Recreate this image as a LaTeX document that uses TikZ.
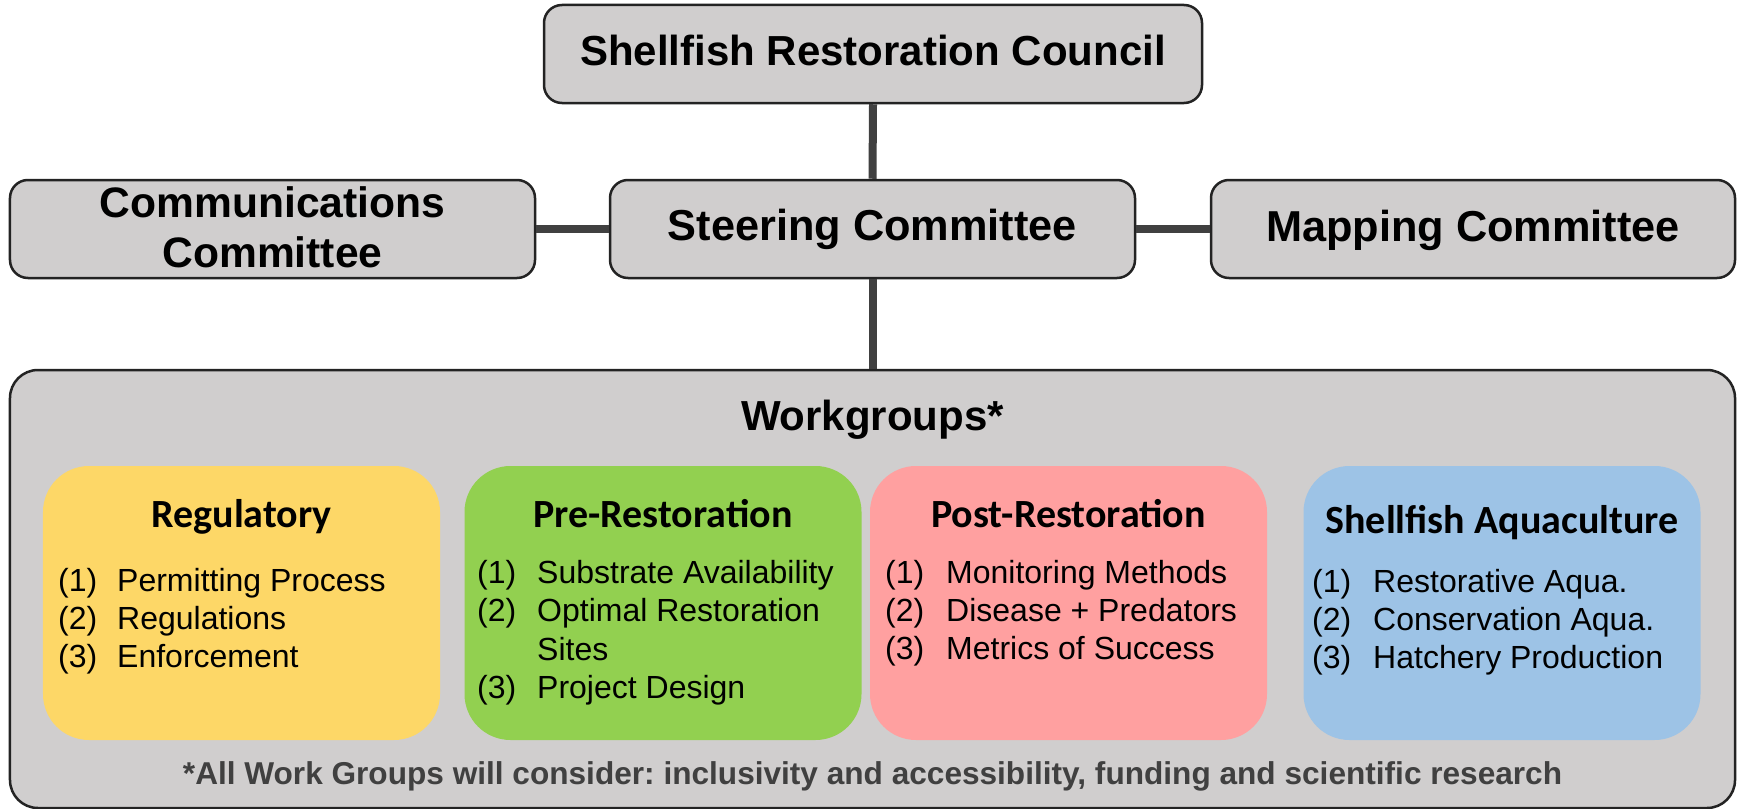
\documentclass[tikz,border=0pt]{standalone}
\usepackage{fontspec}
\setmainfont{Liberation Sans}
\newfontfamily\headfont{Carlito}
\frenchspacing

\definecolor{boxgray}{RGB}{208,206,206}
\definecolor{edgeline}{RGB}{35,35,35}
\definecolor{linkgray}{RGB}{64,64,64}
\definecolor{reggold}{RGB}{253,215,103}
\definecolor{pregreen}{RGB}{146,208,80}
\definecolor{postpink}{RGB}{255,160,160}
\definecolor{aquablue}{RGB}{157,195,230}

\tikzset{
  orgbox/.style={draw=edgeline, line width=2.5bp, fill=boxgray, rounded corners=18bp, inner sep=0pt},
  groupbox/.style={rounded corners=46bp, inner sep=0pt, minimum width=397bp, minimum height=274bp},
  linkline/.style={draw=linkgray, line width=8bp},
  toptext/.style={inner sep=0pt, anchor=base, font=\fontsize{42bp}{50bp}\selectfont\bfseries},
  widetext/.style={toptext, font=\fontsize{43.3bp}{50bp}\selectfont\bfseries},
  grouphead/.style={inner sep=0pt, anchor=base, font=\fontsize{40bp}{46bp}\selectfont\headfont\bfseries},
  itemtext/.style={inner sep=0pt, anchor=base west, font=\fontsize{32bp}{37bp}\selectfont},
  notetext/.style={inner sep=0pt, anchor=base, text=linkgray, font=\fontsize{31.6bp}{36bp}\selectfont\bfseries}
}

\begin{document}
\begin{tikzpicture}[x=1bp,y=-1bp]
\useasboundingbox[fill=white] (0,0) rectangle (1737,809);

% committee boxes
\node[orgbox, minimum width=658bp, minimum height=98bp] (council) at (873,54) {};
\node[orgbox, minimum width=525bp, minimum height=98bp] (comm) at (272.5,229) {};
\node[orgbox, minimum width=525bp, minimum height=98bp] (steering) at (872.5,229) {};
\node[orgbox, minimum width=524bp, minimum height=98bp] (mapping) at (1473,229) {};
\node[orgbox, rounded corners=28bp, minimum width=1725bp, minimum height=438bp] (work) at (872.5,589) {};

% connectors
\draw[linkline] (council.south) -- (steering.north);
\draw[linkline] (comm.east) -- (steering.west);
\draw[linkline] (steering.east) -- (mapping.west);
\draw[linkline] (steering.south) -- (work.north);

% committee labels
\node[toptext] (council-text) at (873,65.5) {Shellfish Restoration Council};
\node[widetext, font=\fontsize{42.6bp}{50bp}\selectfont\bfseries] (comm-text-a) at (272.5,217) {Communications};
\node[widetext, font=\fontsize{42.6bp}{50bp}\selectfont\bfseries] (comm-text-b) at (272.5,267) {Committee};
\node[widetext] (steering-text) at (872.5,240) {Steering Committee};
\node[widetext] (mapping-text) at (1473,241.5) {Mapping Committee};
\node[toptext] (work-text) at (872.5,430) {Workgroups*};

% workgroup boxes
\node[groupbox, fill=reggold] (reg) at (241.5,603) {};
\node[groupbox, fill=pregreen] (pre) at (663,603) {};
\node[groupbox, fill=postpink] (post) at (1068.5,603) {};
\node[groupbox, fill=aquablue] (aqua) at (1502,603) {};

% Regulatory
\node[grouphead] (reg-head) at (241.5,527) {Regulatory};
\node[itemtext] (reg-n1) at (58,591) {(1)};
\node[itemtext] (reg-t1) at (117,591) {Permitting Process};
\node[itemtext] (reg-n2) at (58,629) {(2)};
\node[itemtext] (reg-t2) at (117,629) {Regulations};
\node[itemtext] (reg-n3) at (58,667) {(3)};
\node[itemtext] (reg-t3) at (117,667) {Enforcement};

% Pre-Restoration
\node[grouphead] (pre-head) at (663,527) {Pre-Restoration};
\node[itemtext] (pre-n1) at (477,583) {(1)};
\node[itemtext] (pre-t1) at (537,583) {Substrate Availability};
\node[itemtext] (pre-n2) at (477,621.5) {(2)};
\node[itemtext] (pre-t2) at (537,621.5) {Optimal Restoration};
\node[itemtext] (pre-t2b) at (537,660) {Sites};
\node[itemtext] (pre-n3) at (477,698) {(3)};
\node[itemtext] (pre-t3) at (537,698) {Project Design};

% Post-Restoration
\node[grouphead] (post-head) at (1068.5,527) {Post-Restoration};
\node[itemtext] (post-n1) at (885,583) {(1)};
\node[itemtext] (post-t1) at (946,583) {Monitoring Methods};
\node[itemtext] (post-n2) at (885,621) {(2)};
\node[itemtext] (post-t2) at (946,621) {Disease + Predators};
\node[itemtext] (post-n3) at (885,659) {(3)};
\node[itemtext] (post-t3) at (946,659) {Metrics of Success};

% Shellfish Aquaculture
\node[grouphead] (aqua-head) at (1502,533) {Shellfish Aquaculture};
\node[itemtext] (aqua-n1) at (1312,592) {(1)};
\node[itemtext] (aqua-t1) at (1373,592) {Restorative Aqua.};
\node[itemtext] (aqua-n2) at (1312,630.5) {(2)};
\node[itemtext] (aqua-t2) at (1373,630.5) {Conservation Aqua.};
\node[itemtext] (aqua-n3) at (1312,668) {(3)};
\node[itemtext] (aqua-t3) at (1373,668) {Hatchery Production};

% footnote
\node[notetext] (note) at (872.5,784) {*All Work Groups will consider: inclusivity and accessibility, funding and scientific research};
\end{tikzpicture}
\end{document}
